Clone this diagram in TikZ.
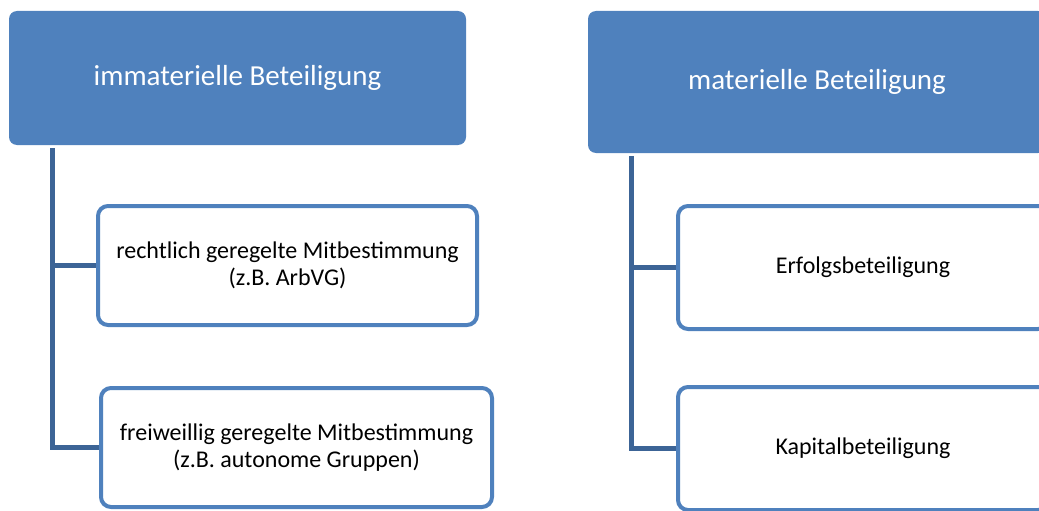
\documentclass[tikz,border=0pt]{standalone}
\usepackage{fontspec}
\setmainfont{Carlito}
\definecolor{accent}{RGB}{79,129,189}
\definecolor{linedark}{RGB}{60,100,150}
\tikzset{
  headbox/.style={draw=none, fill=accent, rounded corners=8pt, inner sep=0pt, text=white, align=center, font=\fontsize{29}{35}\selectfont},
  childbox/.style={draw=accent, line width=4pt, fill=white, rounded corners=10pt, inner sep=0pt, text=black, align=center, font=\fontsize{24}{27}\selectfont},
  conn/.style={draw=linedark, line width=5pt},
}
\begin{document}
\begin{tikzpicture}[x=1pt,y=-1pt]
\useasboundingbox (0,0) rectangle (1039,511);
\clip (0,0) rectangle (1039,511);
% left column
\node[headbox, minimum width=457pt, minimum height=134pt] (t1) at (237.5,78) {immaterielle Beteiligung};
\node[childbox, minimum width=379pt, minimum height=119pt] (c1) at (287.5,265.5) {rechtlich geregelte Mitbestimmung\\(z.B. ArbVG)};
\node[childbox, minimum width=391pt, minimum height=119pt] (c2) at (296.5,447.5) {freiweillig geregelte Mitbestimmung\\(z.B. autonome Gruppen)};
\coordinate (lx) at (52,0);
\draw[conn] ([yshift=-3pt]t1.south -| lx) |- (c2.west);
\draw[conn] (c1.west -| lx) -- (c1.west);
% right column
\node[headbox, minimum width=458pt, minimum height=142pt] (t2) at (817,82) {materielle Beteiligung};
\node[childbox, minimum width=370pt, minimum height=123pt] (d1) at (863,267.5) {Erfolgsbeteiligung};
\node[childbox, minimum width=370pt, minimum height=123pt] (d2) at (863,448.5) {Kapitalbeteiligung};
\coordinate (rx) at (631,0);
\draw[conn] ([yshift=-3pt]t2.south -| rx) |- (d2.west);
\draw[conn] (d1.west -| rx) -- (d1.west);
\end{tikzpicture}
\end{document}
